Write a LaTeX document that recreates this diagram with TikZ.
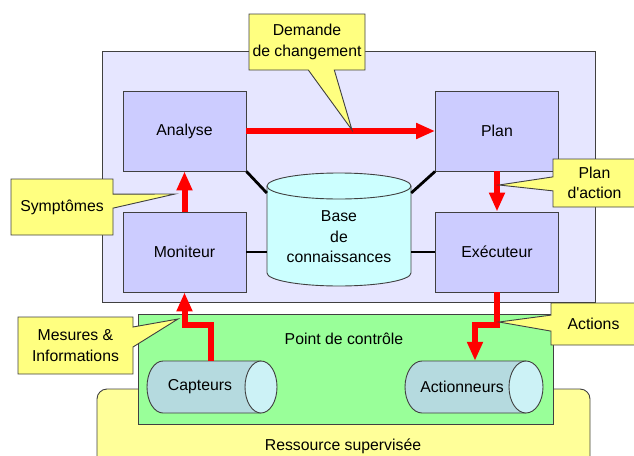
\documentclass[tikz,border=0pt]{standalone}
\usepackage{fontspec}
\setmainfont{Liberation Sans}
\usetikzlibrary{arrows.meta,shapes.callouts,calc}

\definecolor{outerbg}{HTML}{E6E6FF}
\definecolor{blockbg}{HTML}{CCCCFF}
\definecolor{kbbg}{HTML}{CCFFFF}
\definecolor{ctrlbg}{HTML}{99FF99}
\definecolor{resbg}{HTML}{FFFF99}
\definecolor{notebg}{HTML}{FFFF80}
\definecolor{devbody}{HTML}{B5DADF}
\definecolor{devcap}{HTML}{CCF2F6}
\definecolor{edge}{HTML}{404040}

\begin{document}
\begin{tikzpicture}[x=1pt,y=-1pt,
  font=\fontsize{15.8}{20.5}\selectfont,
  frame/.style={draw=edge, line width=0.9pt, inner sep=0pt},
  block/.style={frame, fill=blockbg, minimum width=123pt, minimum height=80pt},
  note/.style={rectangle callout, draw=edge, line width=0.9pt, fill=notebg, align=center, inner sep=0pt},
  flow/.style={draw=red, line width=6pt, -{Triangle[width=15pt,length=19pt]}},
  link/.style={draw=black, line width=2.8pt},
  device/.style={minimum height=52pt, inner sep=0pt},
]
\useasboundingbox (0,0) rectangle (634,455);

% supervised resource and control point
\node[frame, fill=resbg, rounded corners=10pt, minimum width=493pt, minimum height=91pt] (res) at (343.5,434.5) {};
\node (reslabel) at (343,446) {Ressource supervisée};
\node[frame, fill=ctrlbg, minimum width=415pt, minimum height=110pt] (ctrl) at (345.5,369) {};
\node (ctrllabel) at (344,339) {Point de contrôle};

% autonomic manager
\node[frame, fill=outerbg, minimum width=493pt, minimum height=251pt] (loop) at (348.5,176.5) {};
\node[block] (analyse) at (184.5,131) {Analyse};
\node[block] (plan) at (497,131) {Plan};
\node[block] (moniteur) at (184.5,252) {Moniteur};
\node[block] (executeur) at (497,252) {Exécuteur};

% knowledge base cylinder
\fill[kbbg] (267,186) -- (267,273) arc[start angle=180, end angle=360, x radius=72pt, y radius=13pt] -- (411,186) -- cycle;
\draw[edge, line width=0.9pt] (267,186) -- (267,273) arc[start angle=180, end angle=360, x radius=72pt, y radius=13pt] -- (411,186);
\draw[edge, line width=0.9pt, fill=kbbg] (339,186) ellipse[x radius=72pt, y radius=13pt];
\node[align=center, minimum width=144pt, inner sep=0pt] (kb) at (339,237) {Base\\de\\connaissances};

\draw[link] (analyse.south east) -- ($(kb.west)+(0,-44)$);
\draw[link] (plan.south west) -- ($(kb.east)+(0,-44)$);
\draw[link] (moniteur.east) -- (moniteur.east -| kb.west);
\draw[link] (executeur.west) -- (executeur.west -| kb.east);

% sensors
\fill[devbody] (163,361) -- (261,361) -- (261,413) -- (163,413) arc[start angle=270, end angle=90, x radius=16pt, y radius=26pt] -- cycle;
\draw[edge, line width=0.9pt] (261,361) -- (163,361) arc[start angle=90, end angle=270, x radius=16pt, y radius=26pt] -- (261,413);
\draw[edge, line width=0.9pt, fill=devcap] (261,387) ellipse[x radius=16pt, y radius=26pt];
\node[device] (capteurs) at (200,387) {Capteurs};

% actuators
\fill[devbody] (422,361) -- (526,361) -- (526,413) -- (422,413) arc[start angle=270, end angle=90, x radius=17pt, y radius=26pt] -- cycle;
\draw[edge, line width=0.9pt] (526,361) -- (422,361) arc[start angle=90, end angle=270, x radius=17pt, y radius=26pt] -- (526,413);
\draw[edge, line width=0.9pt, fill=devcap] (526,387) ellipse[x radius=17pt, y radius=26pt];
\node[device] (actionneurs) at (462,387) {Actionneurs};

% control flow
\draw[flow] (analyse) -- (plan);
\draw[flow] (moniteur) -- (analyse);
\draw[flow] (plan) -- (executeur);
\draw[flow] ($(capteurs.north)+(11,0)$) -- ++(0,-36) -| (moniteur.south);
\draw[flow] (executeur.south) -- ++(0,33) -| ($(actionneurs.north)+(13,0)$);

% annotations
\node[note, minimum width=116pt, minimum height=56pt, callout absolute pointer={(352,130)}, callout pointer width=26pt] (demande) at (307,42) {Demande\\de changement};
\node[note, minimum width=102pt, minimum height=56pt, callout absolute pointer={(175,194)}, callout pointer width=14pt] (symptomes) at (62,207) {Symptômes};
\node[note, minimum width=83pt, minimum height=48pt, callout absolute pointer={(499,185)}, callout pointer width=14pt] (plandaction) at (594.5,183) {Plan\\d\textquotesingle action};
\node[note, minimum width=115pt, minimum height=57pt, callout absolute pointer={(178,319)}, callout pointer width=20pt] (mesures) at (75.5,345.5) {Mesures \&\\Informations};
\node[note, minimum width=85pt, minimum height=42pt, callout absolute pointer={(499,322)}, callout pointer width=16pt] (actions) at (593.5,324) {Actions};
\end{tikzpicture}
\end{document}
